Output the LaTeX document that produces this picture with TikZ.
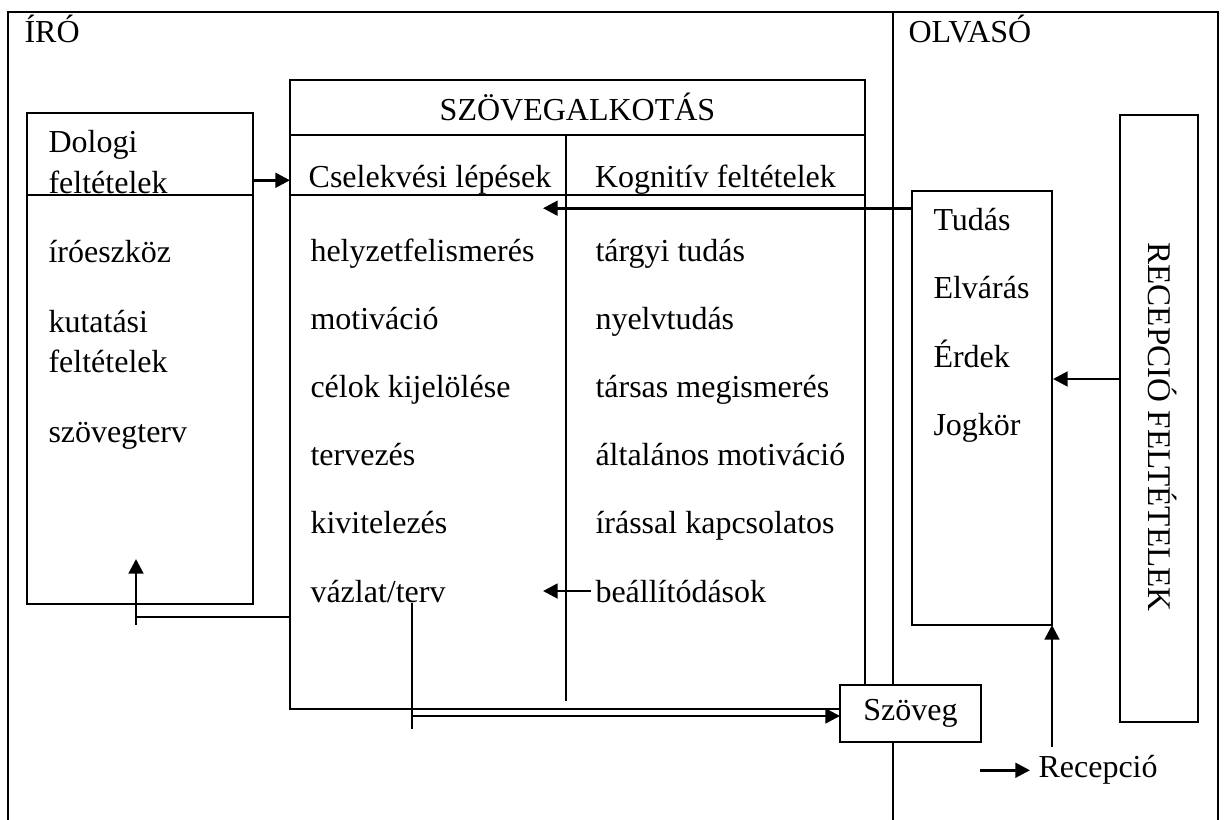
\documentclass[tikz,border=0pt]{standalone}
\usepackage{fontspec}
\setmainfont{Liberation Serif}
\usetikzlibrary{positioning,arrows.meta,fit}

\begin{document}
\begin{tikzpicture}[x=0.375pt, y=-0.375pt, font=\fontsize{12}{14}\selectfont,
  box/.style={draw, line width=0.75pt, inner sep=0pt, outer sep=0pt},
  txt/.style={anchor=base west, inner sep=0pt},
  hd/.style={anchor=base, inner sep=0pt},
  vonal/.style={line width=0.75pt},
  arr/.style={line width=1.05pt, -{Triangle[length=5.5pt,width=5.5pt]}}]
  \useasboundingbox (0,0) rectangle (1224,820);

  \draw[line width=1pt] (8,820) -- (8,12) -- (1218,12) -- (1218,820);
  \draw[line width=1pt] (893,12) -- (893,820);
  \node[txt] (iro) at (24,43) {ÍRÓ};
  \node[txt] (olvaso) at (908,43) {OLVASÓ};

  \node[box, fit={(27,113) (253,604)}] (dolog) {};
  \draw[vonal] (27,195) -- (253,195);
  \node[txt] (dolog1) at (48,153) {Dologi};
  \node[txt] (dolog2) at (48,194) {feltételek};
  \node[txt] (eszkoz) at (48,263) {íróeszköz};
  \node[txt] (kutat1) at (48,333) {kutatási};
  \node[txt] (kutat2) at (48,373) {feltételek};
  \node[txt] (szterv) at (48,443) {szövegterv};

  \node[box, fit={(290,80) (865,709)}] (alkot) {};
  \draw[vonal] (290,135) -- (865,135);
  \draw[vonal] (290,195) -- (865,195);
  \draw[vonal] (566,135) -- (566,701);
  \node[hd] (alkotcim) at (577.5,121) {SZÖVEGALKOTÁS};
  \node[hd] (cselek) at (430,188) {Cselekvési lépések};
  \node[hd] (kognit) at (715.5,188) {Kognitív feltételek};

  \node[txt] (helyzet) at (310,262) {helyzetfelismerés};
  \node[txt] (motiv) at (310,330) {motiváció};
  \node[txt] (celok) at (310,398) {célok kijelölése};
  \node[txt] (tervez) at (310,466) {tervezés};
  \node[txt] (kivit) at (310,534) {kivitelezés};
  \node[txt] (vazlat) at (310,602) {vázlat/terv};

  \node[txt] (targyi) at (595,262) {tárgyi tudás};
  \node[txt] (nyelv) at (595,330) {nyelvtudás};
  \node[txt] (tarsas) at (595,398) {társas megismerés};
  \node[txt] (altal) at (595,466) {általános motiváció};
  \node[txt] (irassal) at (595,534) {írással kapcsolatos};
  \node[txt] (beall) at (595,602) {beállítódások};

  \node[box, fit={(912,191) (1052,625)}] (tudasbox) {};
  \node[txt] (tudas) at (933,231) {Tudás};
  \node[txt] (elvaras) at (933,299) {Elvárás};
  \node[txt] (erdek) at (933,368) {Érdek};
  \node[txt] (jogkor) at (933,436) {Jogkör};

  \node[box, fit={(1120,115) (1198,722)}] (recbox) {};
  \node[rotate=-90, inner sep=0pt, font=\fontsize{12.4}{14}\selectfont] (recfelt) at (1163,427) {RECEPCIÓ FELTÉTELEK};

  \node[box, fill=white, fit={(840,685) (981,742)}] (szoveg) {};
  \node (szovegtxt) at (szoveg.center) {Szöveg};
  \node[txt] (recep) at (1038,778) {Recepció};

  \coordinate (tudascel) at (543,0);
  \coordinate (erdekbe) at (1053,379);
  \coordinate (recepalja) at (1052,747);
  \coordinate (recepbe) at (980,0);
  \coordinate (vazlatfent) at (412,603);
  \coordinate (vazlatlent) at (412,729);
  \coordinate (vazlatki) at (412,716);
  \coordinate (vissza) at (136,617);
  \coordinate (visszafent) at (136,559);
  \coordinate (visszalent) at (136,625);

  \draw[arr] (dolog.east |- cselek.west) -- (alkot.west |- cselek.west);
  \draw[arr] (tudasbox.west |- tudas.north) -- (tudascel |- tudas.north);
  \draw[arr] ([xshift=-1.5pt]beall.west) -- (tudascel |- beall.west);
  \draw[arr] (recbox.west |- erdekbe) -- (erdekbe);
  \draw[arr] (recepalja) -- (tudasbox.south east);
  \draw[arr] (recepbe |- recep.west) -- ([xshift=-3pt]recep.west);
  \draw[vonal] (vazlatfent) -- (vazlatlent);
  \draw[arr] (vazlatki) -- (szoveg.west |- vazlatki);
  \draw[vonal] (vissza) -- (alkot.west |- vissza);
  \draw[arr] (visszalent) -- (visszafent);
\end{tikzpicture}
\end{document}
